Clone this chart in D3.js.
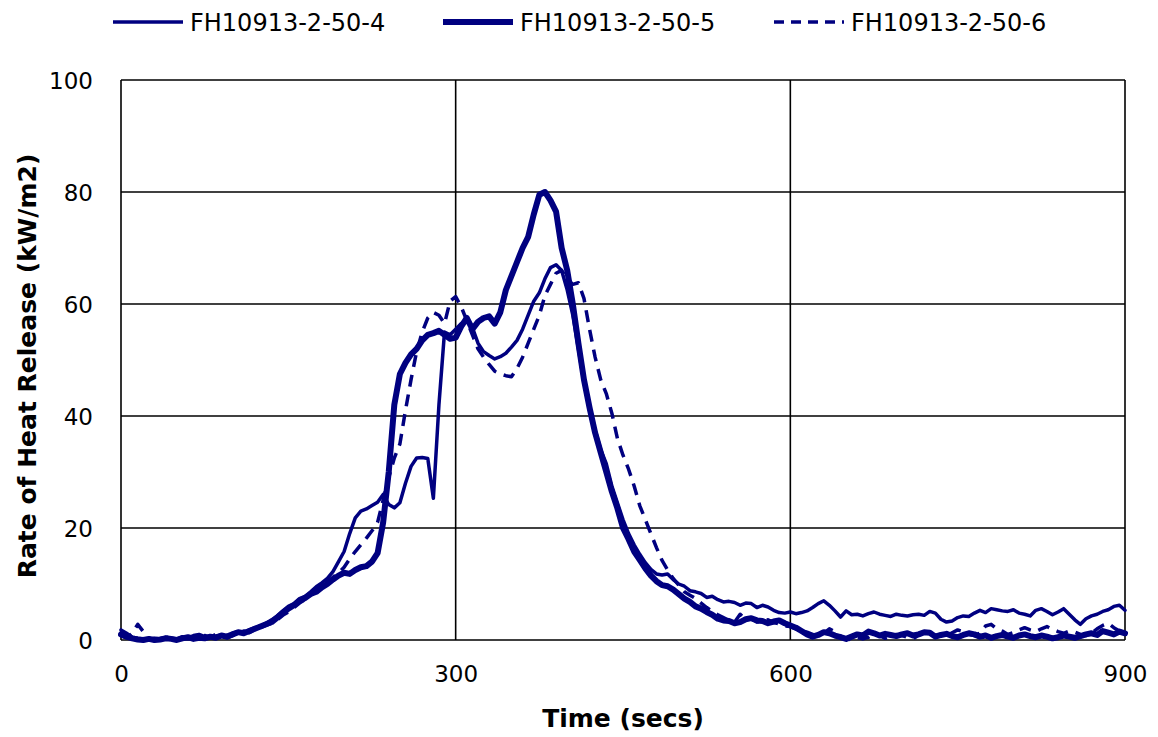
<!DOCTYPE html>
<html>
<head>
<meta charset="utf-8">
<script src="https://cdn.jsdelivr.net/npm/d3@7"></script>
<style>
  html, body { margin: 0; padding: 0; background: #fff; }
  text { font-family: "DejaVu Sans", Verdana, sans-serif; fill: #000; }
</style>
</head>
<body>
<svg id="chart" width="1158" height="737"></svg>
<script>
// ---- Data ----
const seriesNames = ["FH10913-2-50-4", "FH10913-2-50-5", "FH10913-2-50-6"];
const xTicks = [0, 300, 600, 900];
const yTicks = [0, 20, 40, 60, 80, 100];

const time = [
  0,5,10,15,20,25,30,35,40,45,50,55,60,65,70,75,80,85,90,95,
  100,105,110,115,120,125,130,135,140,145,150,155,160,165,170,175,180,185,190,195,
  200,205,210,215,220,225,230,235,240,245,250,255,260,265,270,275,280,285,290,295,
  300,305,310,315,320,325,330,335,340,345,350,355,360,365,370,375,380,385,390,395,
  400,405,410,415,420,425,430,435,440,445,450,455,460,465,470,475,480,485,490,495,
  500,505,510,515,520,525,530,535,540,545,550,555,560,565,570,575,580,585,590,595,
  600,605,610,615,620,625,630,635,640,645,650,655,660,665,670,675,680,685,690,695,
  700,705,710,715,720,725,730,735,740,745,750,755,760,765,770,775,780,785,790,795,
  800,805,810,815,820,825,830,835,840,845,850,855,860,865,870,875,880,885,890,895,
  900
];

const hrr4 = [
  1.8,1.2,0.5,0.3,0.2,0.1,0.3,0.2,0.5,0.3,0.2,0.6,0.4,0.8,1.0,0.6,0.4,0.7,0.9,0.5,
  1.2,1.5,1.3,1.8,2.2,2.5,3.0,3.6,4.3,5.2,6.0,6.5,7.4,7.8,8.6,9.5,10.2,11.0,12.2,14.0,
  15.8,19.0,21.8,23.0,23.4,24.0,24.6,26.0,24.2,23.6,24.5,28.0,31.0,32.5,32.6,32.4,25.3,42.0,55.0,54.5,
  55.5,56.5,57.0,55.8,53.0,51.5,50.8,50.2,50.6,51.2,52.3,53.5,55.5,58.0,60.5,62.0,64.5,66.5,67.0,66.0,
  62.5,58.0,52.0,46.0,41.0,37.5,34.0,31.5,27.5,24.5,21.5,19.0,17.0,15.3,13.8,12.6,11.8,11.6,11.8,10.8,
  10.0,9.6,8.8,8.6,8.3,7.6,7.8,7.2,6.8,6.9,6.7,6.2,6.6,6.5,5.8,6.2,5.9,5.3,4.9,4.8,
  5.0,4.7,4.9,5.2,5.8,6.5,7.0,6.2,5.2,4.1,5.2,4.5,4.6,4.3,4.7,5.0,4.6,4.4,4.2,4.6,
  4.4,4.3,4.5,4.6,4.4,5.1,4.8,3.7,3.2,3.4,4.0,4.3,4.2,4.8,5.3,4.9,5.6,5.4,5.2,5.1,
  5.4,4.8,4.6,4.3,5.3,5.6,5.1,4.5,5.0,5.6,4.6,3.6,2.8,3.8,4.3,4.6,5.1,5.4,6.0,6.2,
  5.3
];

const hrr5 = [
  1.0,0.6,0.3,0.1,0.0,0.2,0.0,0.1,0.3,0.2,0.0,0.3,0.5,0.2,0.4,0.3,0.6,0.4,0.8,0.6,
  1.0,1.4,1.2,1.6,2.0,2.4,2.8,3.2,4.0,4.8,5.6,6.2,7.0,7.5,8.2,8.6,9.4,10.0,10.8,11.5,
  12.0,11.8,12.5,13.0,13.2,14.0,15.5,21.0,30.0,42.0,47.5,49.5,51.0,52.0,53.5,54.5,54.8,55.2,54.5,53.8,
  54.0,56.0,57.5,55.5,56.8,57.5,57.8,56.5,58.5,62.5,65.0,67.5,70.0,72.0,76.0,79.5,80.0,78.5,76.5,70.0,
  66.0,60.0,53.0,46.5,41.5,37.0,33.5,30.0,26.5,23.5,20.0,18.0,15.8,14.3,12.8,11.5,10.5,9.8,9.6,9.0,
  8.2,7.4,6.8,6.0,5.6,5.0,4.5,3.8,3.5,3.4,3.0,3.2,3.7,3.9,3.5,3.4,3.0,3.3,3.5,3.0,
  2.6,2.2,1.6,1.0,0.6,0.9,1.4,1.2,0.8,0.5,0.2,0.6,1.0,0.8,1.5,1.2,0.8,1.1,0.9,0.7,
  1.0,1.2,0.8,1.0,1.4,1.3,0.6,0.9,1.1,0.7,0.5,0.9,1.2,1.0,0.6,0.8,0.4,0.7,0.9,0.6,
  0.4,0.8,1.0,0.7,0.5,0.8,0.6,0.3,0.5,0.8,0.6,0.4,0.7,1.0,1.2,0.9,1.6,1.3,1.0,1.5,
  1.2
];

const hrr6 = [
  0.8,0.4,1.2,2.8,1.5,0.3,0.1,0.2,0.6,0.2,0.0,0.4,0.2,0.6,0.3,0.8,0.5,1.0,0.7,0.4,
  0.8,1.1,1.6,1.3,1.8,2.2,2.6,3.0,3.6,4.4,5.0,5.8,6.6,7.2,8.0,8.8,9.5,10.4,11.2,12.0,
  13.0,14.5,15.8,17.0,18.2,19.5,21.0,25.0,29.0,32.5,35.0,41.0,46.5,51.5,55.0,57.5,58.5,58.0,56.5,60.5,
  61.3,59.5,57.0,54.5,52.0,50.5,49.2,48.0,47.5,47.2,47.0,48.5,50.5,53.0,55.5,58.0,61.5,63.5,65.5,66.0,
  64.5,63.5,63.8,61.0,55.5,50.5,46.5,44.0,40.5,36.0,33.0,30.5,27.5,24.0,21.5,19.0,16.5,14.2,12.5,11.0,
  9.8,8.6,8.0,7.4,6.6,5.8,5.1,4.5,4.0,3.5,3.2,4.6,3.6,3.9,3.2,3.4,3.6,3.1,2.9,2.5,
  2.4,2.0,1.6,1.4,1.0,0.6,1.2,2.0,1.5,0.7,0.3,0.0,0.4,0.2,0.5,1.2,0.8,0.3,0.6,1.0,
  0.8,0.5,0.2,0.9,1.4,1.2,0.8,1.0,0.6,1.3,1.8,1.5,1.0,0.8,1.2,2.5,2.8,2.0,1.6,1.0,
  1.3,1.8,2.2,1.8,1.5,2.0,2.4,1.9,1.5,1.2,1.6,1.4,1.0,0.8,1.2,2.0,2.6,3.0,2.2,1.6,
  1.4
];

// ---- Layout ----
const svg = d3.select("#chart");
const margin = { left: 121, right: 1158 - 1125, top: 80, bottom: 737 - 640 };
const W = 1158, H = 737;
const x = d3.scaleLinear().domain([0, 900]).range([margin.left, W - margin.right]);
const y = d3.scaleLinear().domain([0, 100]).range([H - margin.bottom, margin.top]);
const navy = "#000080";

// gridlines
const g = svg.append("g");
g.selectAll(".hgrid").data(yTicks).enter().append("line")
  .attr("x1", x(0)).attr("x2", x(900))
  .attr("y1", d => y(d)).attr("y2", d => y(d))
  .attr("stroke", "#000").attr("stroke-width", 1.6);
g.selectAll(".vgrid").data(xTicks).enter().append("line")
  .attr("y1", y(0)).attr("y2", y(100))
  .attr("x1", d => x(d)).attr("x2", d => x(d))
  .attr("stroke", "#000").attr("stroke-width", 1.6);

// axes (labels only)
const xAxis = d3.axisBottom(x).tickValues(xTicks).tickSize(0).tickPadding(26);
const yAxis = d3.axisLeft(y).tickValues(yTicks).tickSize(0).tickPadding(28);
const xa = svg.append("g").attr("transform", `translate(0,${y(0)})`).call(xAxis);
const ya = svg.append("g").attr("transform", `translate(${x(0)},0)`).call(yAxis);
[xa, ya].forEach(a => {
  a.select(".domain").remove();
  a.selectAll("text").attr("font-family", "DejaVu Sans, Verdana, sans-serif")
    .attr("font-size", 23).attr("fill", "#000");
});
ya.selectAll("text").attr("dy", "0.35em");

// lines
const styles = [
  { w: 3.5, dash: null },
  { w: 6, dash: null },
  { w: 3.5, dash: "12,8" }
];
const seriesData = [hrr4, hrr5, hrr6];
const line = d3.line().x(d => x(d[0])).y(d => y(d[1]));
svg.append("clipPath").attr("id", "clip").append("rect")
  .attr("x", x(0) - 3).attr("y", y(100)).attr("width", x(900) - x(0) + 6).attr("height", y(0) - y(100) + 3);
seriesData.forEach((vals, i) => {
  const pts = time.map((t, k) => [t, vals[k]]);
  svg.append("path").datum(pts)
    .attr("d", line)
    .attr("fill", "none")
    .attr("stroke", navy)
    .attr("stroke-width", styles[i].w)
    .attr("stroke-linejoin", "round")
    .attr("stroke-linecap", styles[i].dash ? "butt" : "round")
    .attr("stroke-dasharray", styles[i].dash)
    .attr("clip-path", "url(#clip)");
});

// axis titles
svg.append("text").attr("x", (x(0) + x(900)) / 2).attr("y", 727)
  .attr("text-anchor", "middle").attr("font-size", 25).attr("font-weight", "bold")
  .text("Time (secs)");
svg.append("text").attr("transform", `translate(36,${(y(0) + y(100)) / 2 + 6}) rotate(-90)`)
  .attr("text-anchor", "middle").attr("font-size", 25).attr("font-weight", "bold")
  .text("Rate of Heat Release (kW/m2)");

// legend
const legX = [113, 443, 774];
seriesNames.forEach((name, i) => {
  const lg = svg.append("g");
  lg.append("line").attr("x1", legX[i]).attr("x2", legX[i] + 70)
    .attr("y1", 22).attr("y2", 22)
    .attr("stroke", navy).attr("stroke-width", styles[i].w)
    .attr("stroke-dasharray", styles[i].dash ? "10,7" : null);
  lg.append("text").attr("x", legX[i] + 77).attr("y", 22).attr("dy", "0.36em")
    .attr("font-size", 24).text(name);
});
</script>
</body>
</html>
